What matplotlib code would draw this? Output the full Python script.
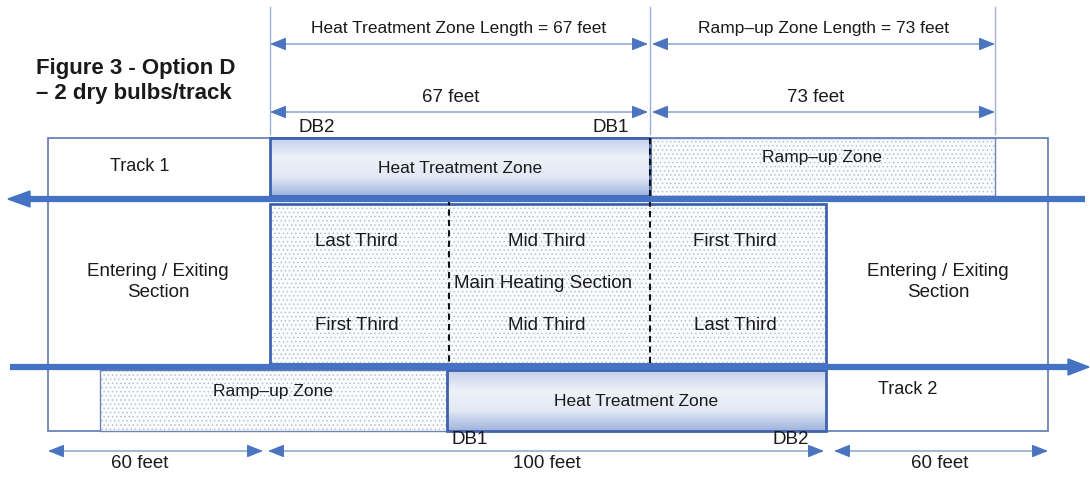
"""Track layout diagram - Figure 3, Option D (2 dry bulbs per track)."""

import numpy as np
import matplotlib

matplotlib.use("Agg")

import matplotlib.pyplot as plt
from matplotlib.patches import Rectangle, FancyArrowPatch, Polygon
from matplotlib.colors import LinearSegmentedColormap

plt.rcParams["font.family"] = ["Liberation Sans", "DejaVu Sans"]
plt.rcParams["hatch.linewidth"] = 0.6

# values from the diagram
TOP_ZONE_LABELS = ["Heat Treatment Zone Length = 67 feet", "Ramp\u2013up Zone Length = 73 feet"]
TOP_ZONE_FEET = [67, 73]
BOTTOM_SECTION_FEET = [60, 100, 60]
TRACK1_THIRDS = ["Last Third", "Mid Third", "First Third"]
TRACK2_THIRDS = ["First Third", "Mid Third", "Last Third"]
SIDE_LABEL = "Entering / Exiting\nSection"

# layout grid (diagram units = pixels)
X_LEFT, X_HTZ, X_MID, X_DB1, X_MAIN_END, X_RAMP_END, X_RIGHT = 48, 270, 449, 650, 826, 995, 1048
X_RAMP2 = 100
Y_TOP, Y_T1, Y_MAIN_TOP, Y_MAIN_BOT, Y_T2, Y_BOT = 139, 200, 205, 365, 368, 432

TRACK = "#4472c4"
BORDER = "#3f63ad"
THIN = "#9bb1dc"
HEAD = "#4a74c0"
TEXT = "#1a1a1a"
FS = 13.5
FS_ZONE = 12.5

fig = plt.figure(figsize=(10.9, 4.85), dpi=100)
ax = fig.add_axes([0, 0, 1, 1])
ax.set_xlim(0, 1090)
ax.set_ylim(485, 0)
ax.axis("off")

grad = LinearSegmentedColormap.from_list("htz", ["#c3cfea", "#eef1f8", "#e3e9f5", "#9fb3de"])


def dotted_box(x0, y0, x1, y1, edge, lw):
    ax.add_patch(Rectangle((x0, y0), x1 - x0, y1 - y0, facecolor="#fbfcfe", edgecolor="none", zorder=1))
    ax.add_patch(Rectangle((x0, y0), x1 - x0, y1 - y0, facecolor="none", edgecolor="#b9c0cc",
                           hatch="....", linewidth=0, zorder=1.2))
    ax.add_patch(Rectangle((x0, y0), x1 - x0, y1 - y0, facecolor="none", edgecolor=edge,
                           linewidth=lw, zorder=3))


def gradient_box(x0, y0, x1, y1):
    g = np.linspace(0, 1, 100).reshape(-1, 1)
    ax.imshow(g, cmap=grad, aspect="auto", extent=(x0, x1, y1, y0), zorder=1, interpolation="bilinear")
    ax.add_patch(Rectangle((x0, y0), x1 - x0, y1 - y0, facecolor="none", edgecolor=BORDER,
                           linewidth=2, zorder=3))


def dim_arrow(x0, x1, y):
    ax.plot([x0 + 6, x1 - 6], [y, y], color=THIN, linewidth=1.3, zorder=2)
    for a, b in ((x0 + 10, x0), (x1 - 10, x1)):
        ax.add_patch(FancyArrowPatch((a, y), (b, y), arrowstyle="-|>,head_length=1.0,head_width=0.4",
                                     mutation_scale=10, color=HEAD, linewidth=0.8, shrinkA=0, shrinkB=0,
                                     zorder=2.5))


# outer frame
ax.add_patch(Rectangle((X_LEFT, Y_TOP), X_RIGHT - X_LEFT, Y_BOT - Y_TOP, facecolor="white",
                       edgecolor="#6d84b6", linewidth=1.3, zorder=0.5))

# track 1 zones
gradient_box(X_HTZ, Y_TOP, X_DB1, Y_T1 - 3)
dotted_box(X_DB1, Y_TOP, X_RAMP_END, Y_T1 - 3, "#6d84b6", 1.0)
ax.text((X_HTZ + X_DB1) / 2, 169, "Heat Treatment Zone", ha="center", va="center", fontsize=FS_ZONE, color=TEXT, zorder=4)
ax.text((X_DB1 + X_RAMP_END) / 2, 158, "Ramp\u2013up Zone", ha="center", va="center", fontsize=FS_ZONE, color=TEXT, zorder=4)
ax.text(140, 167, "Track 1", ha="center", va="center", fontsize=13, color=TEXT)

# main heating section
dotted_box(X_HTZ, Y_MAIN_TOP, X_MAIN_END, Y_MAIN_BOT, BORDER, 2)
ax.plot([X_MID, X_MID], [Y_T1, Y_MAIN_BOT], color="#111111", linestyle=(0, (3, 2)), linewidth=1.5, zorder=4)
ax.plot([X_DB1, X_DB1], [Y_TOP, Y_MAIN_BOT], color="#111111", linestyle=(0, (3, 2)), linewidth=1.5, zorder=4)
third_centers = [(X_HTZ + X_MID) / 2, (X_MID + X_DB1) / 2, (X_DB1 + X_MAIN_END) / 2]
for xc, t1, t2 in zip(third_centers, TRACK1_THIRDS, TRACK2_THIRDS):
    ax.text(xc - 3, 242, t1, ha="center", va="center", fontsize=FS, color=TEXT, zorder=4)
    ax.text(xc - 3, 326, t2, ha="center", va="center", fontsize=FS, color=TEXT, zorder=4)
ax.text(third_centers[1] - 6, 284, "Main Heating Section", ha="center", va="center", fontsize=FS, color=TEXT, zorder=4)
ax.text(158, 282, SIDE_LABEL, ha="center", va="center", fontsize=FS, color=TEXT, linespacing=1.25)
ax.text(938, 282, SIDE_LABEL, ha="center", va="center", fontsize=FS, color=TEXT, linespacing=1.25)

# track 2 zones
dotted_box(X_RAMP2, Y_T2 + 3, X_MID - 2, Y_BOT, "#6d84b6", 1.0)
gradient_box(X_MID - 2, Y_T2 + 3, X_MAIN_END, Y_BOT)
ax.text(273, 392, "Ramp\u2013up Zone", ha="center", va="center", fontsize=FS_ZONE, color=TEXT, zorder=4)
ax.text(636, 402, "Heat Treatment Zone", ha="center", va="center", fontsize=FS_ZONE, color=TEXT, zorder=4)
ax.text(908, 390, "Track 2", ha="center", va="center", fontsize=13, color=TEXT)

# track arrows
ax.plot([28, 1085], [Y_T1, Y_T1], color=TRACK, linewidth=4.5, solid_capstyle="butt", zorder=5)
ax.add_patch(Polygon([[8, Y_T1], [30, Y_T1 - 8], [30, Y_T1 + 8]], closed=True, color=TRACK, zorder=5))
ax.plot([10, 1070], [Y_T2, Y_T2], color=TRACK, linewidth=4.5, solid_capstyle="butt", zorder=5)
ax.add_patch(Polygon([[1089, Y_T2], [1068, Y_T2 - 8], [1068, Y_T2 + 8]], closed=True, color=TRACK, zorder=5))

# top dimension lines
for xv in (X_HTZ, X_DB1, X_RAMP_END):
    ax.plot([xv, xv], [8, Y_TOP - 4], color=THIN, linewidth=1.0, zorder=2)
spans_top = [(X_HTZ, X_DB1 - 2), (X_DB1 + 2, X_RAMP_END)]
for (x0, x1), label, feet in zip(spans_top, TOP_ZONE_LABELS, TOP_ZONE_FEET):
    dim_arrow(x0, x1, 45)
    dim_arrow(x0, x1, 113)
    ax.text((x0 + x1) / 2, 29, label, ha="center", va="center", fontsize=FS_ZONE, color=TEXT)
    ax.text((x0 + x1) / 2 - 8, 97, f"{feet} feet", ha="center", va="center", fontsize=FS, color=TEXT)
ax.text(317, 127, "DB2", ha="center", va="center", fontsize=FS, color=TEXT)
ax.text(611, 128, "DB1", ha="center", va="center", fontsize=FS, color=TEXT)

# bottom dimension lines
spans_bot = [(X_LEFT, 263), (268, X_MAIN_END - 2), (X_MAIN_END + 8, X_RIGHT)]
label_x = [140, 547, 940]
for (x0, x1), feet, lx in zip(spans_bot, BOTTOM_SECTION_FEET, label_x):
    dim_arrow(x0, x1, 452)
    ax.text(lx, 464, f"{feet} feet", ha="center", va="center", fontsize=FS, color=TEXT)
ax.text(470, 440, "DB1", ha="center", va="center", fontsize=FS, color=TEXT)
ax.text(791, 440, "DB2", ha="center", va="center", fontsize=FS, color=TEXT)

# title
ax.text(36, 81, "Figure 3 - Option D\n\u2013 2 dry bulbs/track", ha="left", va="center", fontsize=16,
        fontweight="bold", color=TEXT, linespacing=1.2)

fig.savefig("out.png", dpi=100)
